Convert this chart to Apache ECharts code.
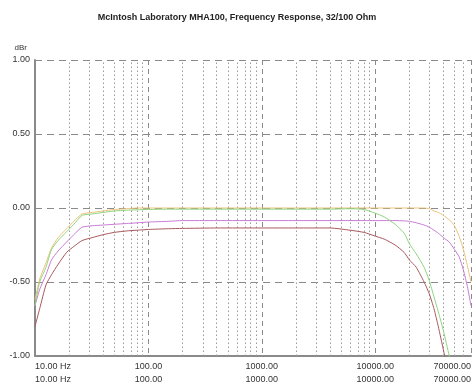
<!DOCTYPE html>
<html><head><meta charset="utf-8">
<script src="https://cdn.jsdelivr.net/npm/echarts@6/dist/echarts.min.js"></script>
<style>html,body{margin:0;padding:0;background:#fff}#c{width:474px;height:389px}</style>
</head><body><div id="c"></div>
<script>
const title = 'McIntosh Laboratory MHA100, Frequency Response, 32/100 Ohm';
const freqs = [10, 11, 12.5, 14, 16, 19, 22, 26, 32, 40, 50, 64, 80, 100, 150, 200, 400, 1000, 2000, 4000, 6000, 8000, 10000, 12000, 15000, 18000, 20000, 23000, 27000, 30000, 33000, 36000, 40000, 45000, 50000, 55000, 60000, 65000, 70000];
const greenDb  = [-0.66,-0.50,-0.40,-0.28,-0.22,-0.16,-0.11,-0.05,-0.04,-0.03,-0.02,-0.015,-0.012,-0.01,-0.008,-0.008,-0.008,-0.008,-0.008,-0.008,-0.005,-0.01,-0.035,-0.06,-0.11,-0.17,-0.24,-0.31,-0.40,-0.49,-0.60,-0.70,-0.83,-1.00,-1.15,-1.3,-1.45,-1.6,-1.75];
const orangeDb = [-0.62,-0.48,-0.37,-0.27,-0.20,-0.14,-0.09,-0.04,-0.03,-0.02,-0.01,-0.005,0,0,0,0,0,0,0,0,0,0,0,0,0,0,0,0,0,-0.005,-0.02,-0.03,-0.05,-0.08,-0.12,-0.19,-0.28,-0.39,-0.50];
const purpleDb = [-0.66,-0.55,-0.45,-0.35,-0.29,-0.23,-0.18,-0.13,-0.12,-0.115,-0.11,-0.105,-0.10,-0.095,-0.09,-0.085,-0.085,-0.085,-0.085,-0.085,-0.085,-0.085,-0.085,-0.085,-0.085,-0.087,-0.09,-0.10,-0.115,-0.13,-0.15,-0.17,-0.20,-0.23,-0.28,-0.33,-0.42,-0.53,-0.66];
const redDb    = [-0.80,-0.68,-0.52,-0.45,-0.38,-0.30,-0.26,-0.22,-0.20,-0.18,-0.165,-0.155,-0.15,-0.145,-0.14,-0.138,-0.135,-0.135,-0.135,-0.135,-0.15,-0.165,-0.19,-0.21,-0.25,-0.30,-0.35,-0.40,-0.50,-0.58,-0.68,-0.80,-0.96,-1.15,-1.3,-1.45,-1.6,-1.75,-1.9];
const yTicks = [-1, -0.5, 0, 0.5, 1];
const xMin = 10, xMax = 70000;

const lg = Math.log10;
const pts = arr => freqs.map((f,i)=>[lg(f), arr[i]]);
// minor vertical grid lines at 2..9 x each decade
const minor = [];
for (let d = 10; d < xMax; d *= 10) for (let k = 2; k <= 9; k++) { const f = d*k; if (f < xMax) minor.push({xAxis: lg(f)}); }

const chart = echarts.init(document.getElementById('c'), null, {renderer:'canvas'});
const mkLine = (name, color, data, extra) => Object.assign({
  name, type:'line', data: pts(data), symbol:'none', smooth:0.2,
  lineStyle:{color, width:1}, itemStyle:{color}, clip:true, z:5, animation:false
}, extra||{});
const font = 'Liberation Sans, Arial, sans-serif';
chart.setOption({
  animation:false,
  title:{text:title, left:'center', top:8, textStyle:{fontSize:9, fontWeight:'bold', color:'#222', fontFamily:font}},
  grid:{left:35, right:0, top:60, bottom:33},
  xAxis:{type:'value', min:lg(xMin), max:lg(xMax), interval:1,
    axisLine:{show:true, onZero:false, lineStyle:{color:'#8a8a8a', width:2}},
    axisTick:{show:false},
    splitLine:{show:true, lineStyle:{color:'#8a8a8a', type:[5,4], width:1}},
    axisLabel:{fontSize:9, color:'#333', lineHeight:13, margin:4, fontFamily:font,
      alignMinLabel:'left', alignMaxLabel:'right', showMinLabel:true, showMaxLabel:true,
      formatter:(v, i)=>{ const s = Math.pow(10, v).toFixed(2) + (i===0?' Hz':''); return s+'\n'+s; }}
  },
  yAxis:{type:'value', min:-1, max:1, interval:0.5, name:'dBr',
    nameLocation:'end', nameGap:8, nameTextStyle:{fontSize:8, color:'#333', align:'right', padding:[0,8,0,0], fontFamily:font},
    axisLine:{show:true, lineStyle:{color:'#8a8a8a', width:2}},
    axisTick:{show:false},
    splitLine:{show:true, lineStyle:{color:'#8a8a8a', type:[7,5], width:1}},
    axisLabel:{fontSize:9, color:'#333', margin:5, fontFamily:font, formatter:v=>v.toFixed(2)}
  },
  series:[
    mkLine('red', '#a8585c', redDb, {markLine:{silent:true, symbol:'none', label:{show:false}, animation:false,
      lineStyle:{color:'#9a9a9a', type:[1.5,2.5], width:1}, data: minor}}),
    mkLine('purple', '#c77ad4', purpleDb),
    mkLine('orange', '#ecc27a', orangeDb),
    mkLine('green', '#8fd47e', greenDb)
  ]
});
</script></body></html>
